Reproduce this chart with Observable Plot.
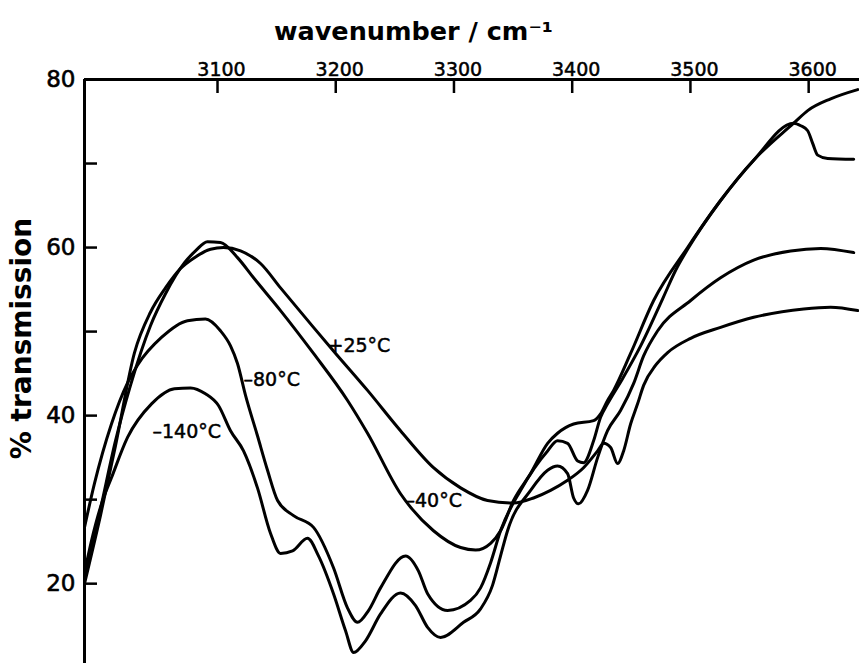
<!DOCTYPE html>
<html><head><meta charset="utf-8">
<script src="https://cdn.jsdelivr.net/npm/d3@7"></script>
<script src="https://cdn.jsdelivr.net/npm/@observablehq/plot@0.6"></script>
<style>body{margin:0;background:#fff}</style>
</head><body><div id="chart"></div>
<script>
// axis extents and ticks
const xDomain = [2987.5, 3643];
const yDomain = [10.5, 80];
const xTicks = [3100, 3200, 3300, 3400, 3500, 3600];
const yTicks = [20, 30, 40, 50, 60, 70];
const yLabels = [20, 40, 60, 80];

// series: [wavenumber (cm^-1), % transmission]
const plus25 = [[2987.5,20.0],[3001,28.1],[3013.7,36.4],[3029.8,47.5],[3043.3,52.3],[3056,55.2],[3068.7,57.5],[3080.5,58.8],[3094.1,59.8],[3105.1,60.0],[3119.5,59.6],[3136.4,58.1],[3153.3,55.2],[3181.2,50.5],[3198.1,47.7],[3226.9,43.0],[3254.8,38.2],[3282.7,33.8],[3305.6,31.4],[3328.4,29.9],[3350.4,29.6],[3367.3,30.2],[3381.7,31.1],[3396.1,32.3],[3409.6,33.8],[3421.5,35.8],[3426.6,36.7],[3432.5,36.2],[3438.4,34.3],[3443.5,35.8],[3449.4,39.0],[3455.3,41.4],[3460.4,43.6],[3470.6,46.0],[3480.7,47.5],[3500.2,49.2],[3525.5,50.5],[3553.5,51.7],[3595.8,52.7],[3618.6,52.9],[3641.5,52.5]];
const minus40 = [[2987.5,20.6],[3001,28.9],[3013.7,37.0],[3026.4,43.6],[3043.3,50.7],[3056,54.5],[3072.1,58.2],[3081.4,59.6],[3091.5,60.7],[3102.5,60.6],[3116.9,58.8],[3130.5,56.4],[3153.3,52.5],[3181.2,47.4],[3210,41.8],[3226.9,37.9],[3254.8,30.7],[3282.7,26.3],[3305.6,24.3],[3318.3,24.0],[3331,24.8],[3339.4,26.3],[3350.4,29.9],[3364.8,33.1],[3379.2,36.7],[3387.6,37.9],[3401.2,39.0],[3418.1,39.4],[3424,40.2],[3429.9,41.8],[3435,43.0],[3449.4,47.4],[3468.9,53.7],[3497.6,60.0],[3525.5,65.6],[3553.5,70.4],[3587.3,74.8],[3599.2,76.3],[3618.6,77.7],[3641.5,78.8]];
const minus80 = [[2987.5,26.7],[2995.9,31.9],[3010.3,39.0],[3023.9,43.9],[3032.3,46.0],[3052.6,49.3],[3074.6,51.3],[3089.8,51.5],[3102.5,50.1],[3111,48.3],[3116.9,46.2],[3123.7,42.4],[3133.8,37.6],[3142.3,33.5],[3150.8,29.9],[3164.3,28.1],[3181.2,26.7],[3198.1,21.9],[3210,17.1],[3218.4,15.4],[3227.7,16.8],[3237.9,19.5],[3259.1,23.3],[3270,21.5],[3277.7,18.8],[3294.6,16.8],[3314,18.0],[3322.5,19.5],[3331,22.5],[3339.4,26.3],[3356.3,31.1],[3379.2,35.8],[3387.6,37.0],[3396.1,36.7],[3404.6,34.6],[3409.6,34.4],[3418.1,37.0],[3424,39.8],[3429.9,41.4],[3442.6,44.4],[3457.9,48.3],[3476.5,53.9],[3487.5,57.3],[3497.6,59.8],[3525.5,65.6],[3553.5,70.4],[3587.3,74.8],[3593.3,74.5],[3599.2,73.9],[3603.4,72.4],[3607.6,71.0],[3616.1,70.6],[3638.1,70.5]];
const minus140 = [[2987.5,21.3],[2993.4,25.1],[3001.9,29.5],[3010.3,32.6],[3023.9,37.4],[3044.2,41.4],[3063.6,43.2],[3077.2,43.3],[3089.8,42.6],[3100.8,41.2],[3111,38.2],[3122,35.8],[3133.8,31.4],[3144.8,26.0],[3153.3,23.6],[3163.5,23.9],[3176.1,25.4],[3185.4,23.3],[3198.1,18.8],[3208.3,14.4],[3215.1,11.8],[3225.2,13.2],[3237.9,16.4],[3254.8,18.9],[3267.5,17.4],[3277.7,14.8],[3288.7,13.6],[3308.1,15.4],[3322.5,17.0],[3332.6,19.8],[3339.4,23.3],[3345.3,26.3],[3364.8,31.1],[3379.2,33.5],[3387.6,34.0],[3396.1,33.1],[3401.2,30.2],[3405.4,29.5],[3413,31.1],[3421.5,35.0],[3429.9,38.2],[3440.9,40.6],[3451.9,43.8],[3460.4,47.1],[3472.3,50.1],[3500.2,53.7],[3525.5,56.4],[3553.5,58.5],[3584.8,59.6],[3610.2,59.9],[3638.1,59.4]];

const seriesNames = ["+25°C", "–40°C", "–80°C", "–140°C"];
const seriesData = [plus25, minus40, minus80, minus140];
// label anchor (left edge) in data units
const labelWn = [3193, 3259, 3122, 3045];
const labelT = [48.3, 29.9, 44.3, 38.1];

const rows = seriesData.flatMap((s, i) => s.map(([wn, t]) => ({series: seriesNames[i], wn, t})));
const labels = seriesNames.map((name, i) => ({name, wn: labelWn[i], t: labelT[i]}));

const font = "DejaVu Sans, sans-serif";
const ink = {fill: "#000", stroke: "#000"};
const chart = Plot.plot({
  width: 859, height: 663,
  marginLeft: 84, marginTop: 79, marginRight: 0, marginBottom: 0,
  style: {fontFamily: font, background: "#fff", color: "#000"},
  x: {domain: xDomain, axis: null},
  y: {domain: yDomain, axis: null},
  marks: [
    // frame: top and left lines
    Plot.ruleY([yDomain[1]], {stroke: "#000", strokeWidth: 3}),
    Plot.ruleX([xDomain[0]], {stroke: "#000", strokeWidth: 3}),
    // inward ticks
    Plot.ruleX(xTicks, {x: d => d, y1: yDomain[1], y2: yDomain[1], insetBottom: -14, stroke: "#000", strokeWidth: 2.5}),
    Plot.ruleY(yTicks, {y: d => d, x1: xDomain[0], x2: xDomain[0], insetRight: -13, stroke: "#000", strokeWidth: 2.5}),
    // tick labels
    Plot.text(xTicks, {x: d => d, frameAnchor: "top", dx: 4, dy: -4, lineAnchor: "bottom", text: d => String(d), fontSize: 19, ...ink, strokeWidth: 0.5}),
    Plot.text(yLabels, {y: d => d, frameAnchor: "left", dx: -9, textAnchor: "end", text: d => String(d), fontSize: 23, ...ink, strokeWidth: 0.6}),
    // axis titles
    Plot.text(["wavenumber / cm⁻¹"], {frameAnchor: "top", dx: (413 - (84 + 859) / 2), dy: -40, lineAnchor: "bottom", fontSize: 25.5, fontWeight: "bold", fill: "#000", text: d => d}),
    Plot.text(["% transmission"], {frameAnchor: "left", textAnchor: "middle", dx: -62, dy: -33, rotate: -90, fontSize: 28, fontWeight: "bold", fill: "#000", text: d => d}),
    // curves
    Plot.line(rows, {x: "wn", y: "t", z: "series", stroke: "#000", strokeWidth: 3, curve: "monotone-x"}),
    // curve labels
    Plot.text(labels, {x: "wn", y: "t", text: "name", textAnchor: "start", fontSize: 19, ...ink, strokeWidth: 0.5})
  ]
});
document.getElementById("chart").appendChild(chart);
</script>
</body></html>
